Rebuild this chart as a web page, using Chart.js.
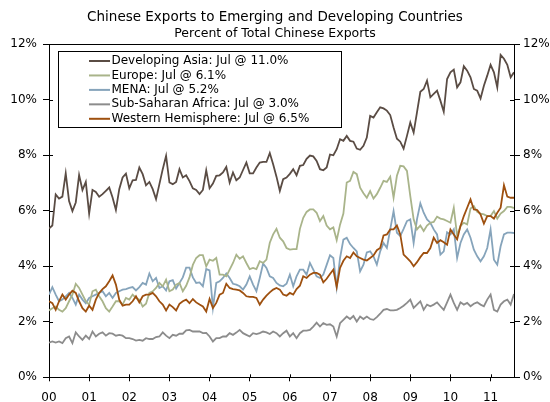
<!DOCTYPE html>
<html>
<head>
<meta charset="utf-8">
<script src="https://cdn.jsdelivr.net/npm/chart.js@4"></script>
<style>
  html, body { margin: 0; padding: 0; background: #fff; }
  #wrap { width: 550px; height: 402px; position: relative; }
</style>
</head>
<body>
<div id="wrap"><canvas id="c" width="550" height="402"></canvas></div>
<script>
// ---- Data (monthly, Jan 2000 .. Jul 2011), percent of total Chinese exports ----
const yearLabels = ['00','01','02','03','04','05','06','07','08','09','10','11'];
const yTickLabels = ['0%','2%','4%','6%','8%','10%','12%'];
const seriesNames = [
  'Developing Asia: Jul @ 11.0%',
  'Europe: Jul @ 6.1%',
  'MENA: Jul @ 5.2%',
  'Sub-Saharan Africa: Jul @ 3.0%',
  'Western Hemisphere: Jul @ 6.5%'
];

const developingAsia = [
  5.36,5.47,6.59,6.44,6.51,7.35,6.35,5.99,6.30,7.29,6.75,7.04,
  5.90,6.75,6.68,6.51,6.60,6.72,6.84,6.48,6.03,6.78,7.20,7.34,
  6.81,7.10,7.11,7.56,7.32,6.92,7.04,6.78,6.42,6.96,7.50,7.98,
  7.02,6.96,7.04,7.50,7.20,7.28,7.07,6.81,6.75,6.60,6.75,7.46,
  6.81,6.98,7.26,7.28,7.38,7.58,7.02,7.38,7.10,7.20,7.47,7.74,
  7.35,7.35,7.56,7.74,7.76,7.76,8.08,7.68,7.23,6.72,7.14,7.20,
  7.33,7.50,7.28,7.62,7.65,7.87,7.99,7.96,7.80,7.50,7.46,7.56,
  8.03,8.00,8.22,8.58,8.52,8.70,8.52,8.49,8.24,8.20,8.34,8.64,
  9.42,9.36,9.55,9.73,9.69,9.61,9.45,9.00,8.60,8.49,8.24,8.70,
  9.18,8.82,9.55,10.29,10.39,10.69,10.09,10.21,10.33,9.97,9.57,10.75,
  10.99,11.09,10.45,10.63,11.21,11.05,10.81,10.39,10.33,10.05,10.51,10.87,
  11.26,10.99,10.45,11.62,11.48,11.26,10.81,10.99
];
const europe = [
  2.41,2.49,2.55,2.43,2.37,2.49,2.74,2.98,3.37,3.22,2.98,2.74,
  2.62,3.10,3.16,2.92,2.74,2.49,2.37,2.55,2.74,2.74,2.62,2.86,
  2.80,2.98,2.86,2.80,2.55,2.65,3.04,3.10,3.22,3.40,3.28,3.52,
  3.10,3.16,3.34,3.40,3.10,3.30,3.60,4.05,4.30,4.40,4.40,4.00,
  4.24,4.20,4.30,3.70,3.70,3.64,3.88,4.12,4.42,4.27,4.36,4.12,
  3.90,3.94,3.90,4.18,4.12,4.24,4.85,5.15,5.35,5.03,4.90,4.66,
  4.60,4.62,4.62,5.35,5.75,5.96,6.05,6.05,5.93,5.63,5.81,5.47,
  5.33,5.40,4.94,5.50,5.90,7.02,7.08,7.40,7.32,6.83,6.63,6.47,
  6.71,6.44,6.60,6.83,7.08,7.04,7.23,6.47,7.26,7.62,7.60,7.44,
  6.53,5.69,5.33,5.47,5.27,5.47,5.57,5.60,5.79,5.72,5.69,5.63,
  5.57,6.11,5.10,5.45,5.57,5.51,6.08,6.17,5.96,5.90,5.87,5.81,
  5.81,5.99,5.72,5.90,5.99,6.14,6.14,6.10
];
const mena = [
  2.98,3.25,2.98,2.74,2.80,2.92,3.04,2.86,2.62,2.98,2.80,2.67,
  2.86,2.92,2.98,3.04,3.10,2.92,3.04,2.86,3.04,3.10,3.16,3.18,
  3.22,3.25,3.13,3.25,3.40,3.34,3.74,3.46,3.58,3.22,3.28,3.13,
  3.46,3.50,3.20,3.40,3.60,3.95,3.95,3.60,3.40,3.42,3.28,3.90,
  3.85,2.50,3.40,3.46,3.58,3.74,3.58,3.37,3.34,3.28,3.16,3.34,
  3.64,3.34,3.10,3.58,4.10,3.94,3.64,3.58,3.40,3.31,3.28,3.37,
  3.70,3.28,3.64,3.88,3.88,3.70,4.12,3.88,3.64,3.58,3.70,4.05,
  4.40,4.30,3.25,4.30,4.96,5.03,4.80,4.66,4.54,3.82,4.06,4.50,
  4.54,4.36,4.06,4.54,4.84,4.66,5.33,5.99,5.21,5.09,5.35,5.63,
  5.69,4.84,5.69,6.27,5.93,5.69,5.57,5.33,5.15,4.42,4.54,5.23,
  5.15,5.33,4.30,4.84,5.15,5.33,5.03,4.60,4.36,4.18,4.36,4.66,
  5.33,4.24,4.06,4.72,5.15,5.21,5.21,5.20
];
const subSaharanAfrica = [
  1.25,1.29,1.25,1.29,1.23,1.41,1.47,1.23,1.62,1.47,1.35,1.50,
  1.38,1.65,1.47,1.57,1.62,1.50,1.59,1.57,1.50,1.53,1.50,1.41,
  1.41,1.38,1.32,1.35,1.32,1.41,1.38,1.38,1.45,1.47,1.62,1.50,
  1.41,1.53,1.50,1.57,1.57,1.69,1.71,1.65,1.65,1.65,1.59,1.60,
  1.47,1.29,1.41,1.41,1.47,1.47,1.59,1.53,1.61,1.71,1.59,1.53,
  1.47,1.59,1.56,1.59,1.65,1.62,1.56,1.65,1.59,1.47,1.59,1.68,
  1.47,1.59,1.41,1.59,1.68,1.68,1.71,1.83,1.97,1.83,1.95,1.89,
  1.91,1.83,1.47,1.95,2.07,2.19,2.10,2.21,2.01,2.19,2.10,2.19,
  2.10,2.07,2.17,2.29,2.43,2.46,2.41,2.41,2.43,2.50,2.58,2.68,
  2.80,2.50,2.62,2.74,2.43,2.62,2.56,2.62,2.70,2.56,2.43,2.70,
  2.98,2.68,2.43,2.70,2.62,2.68,2.56,2.65,2.70,2.62,2.56,2.80,
  2.98,2.43,2.37,2.62,2.74,2.80,2.62,3.00
];
const westernHemisphere = [
  2.74,2.67,2.43,2.74,2.98,2.80,2.98,3.12,3.04,2.74,2.49,2.37,
  2.58,2.43,2.80,3.04,3.18,3.28,3.46,3.67,3.34,2.80,2.58,2.62,
  2.62,2.74,2.92,2.70,2.92,2.98,2.98,3.04,2.92,2.74,2.62,2.41,
  2.62,2.53,2.41,2.65,2.74,2.80,2.67,2.82,2.70,2.62,2.55,2.37,
  2.82,2.50,2.68,2.98,3.04,3.37,3.22,3.18,3.16,3.13,3.04,2.92,
  2.90,2.90,2.86,2.62,2.80,2.94,3.06,3.16,3.22,3.16,2.98,2.94,
  3.04,2.98,3.18,3.30,3.64,3.58,3.70,3.76,3.76,3.70,3.42,3.55,
  3.72,3.88,3.25,3.94,4.20,4.36,4.30,4.50,4.36,4.30,4.24,4.21,
  4.30,4.39,4.58,4.66,5.11,5.15,5.33,5.33,5.47,5.15,4.42,4.30,
  4.18,4.00,4.15,4.33,4.48,4.48,4.66,5.03,4.84,4.94,4.87,4.78,
  5.33,5.15,4.97,5.45,5.81,6.11,6.41,6.05,6.03,5.87,5.54,5.81,
  5.81,5.72,5.93,6.11,6.92,6.51,6.47,6.47
];

const seriesValues = [developingAsia, europe, mena, subSaharanAfrica, westernHemisphere];
const seriesColors = ['#5A4C44', '#A9B48A', '#86A4BB', '#8C8C8C', '#9E500F'];
const drawOrder = [1, 3, 4, 5, 2]; // lower = drawn on top

const FONT = "'DejaVu Sans', Verdana, sans-serif";

const datasets = seriesValues.map((vals, s) => ({
  label: seriesNames[s],
  data: vals.map((v, i) => ({ x: i, y: v })),
  borderColor: seriesColors[s],
  backgroundColor: seriesColors[s],
  borderWidth: 1.8,
  pointRadius: 0,
  tension: 0,
  fill: false,
  order: drawOrder[s]
}));

// Draws inward halves of tick marks, top frame line and the boxed legend
const framePlugin = {
  id: 'frame',
  afterDraw(chart) {
    const ctx = chart.ctx;
    const a = chart.chartArea;
    const sx = chart.scales.x, sy = chart.scales.y;
    ctx.save();
    ctx.strokeStyle = '#000';
    ctx.lineWidth = 1;
    ctx.beginPath();
    // top frame
    ctx.moveTo(a.left, Math.round(a.top) + 0.5);
    ctx.lineTo(a.right, Math.round(a.top) + 0.5);
    // inward y ticks
    sy.ticks.forEach(t => {
      const y = Math.round(sy.getPixelForValue(t.value)) + 0.5;
      ctx.moveTo(a.left, y); ctx.lineTo(a.left + 4, y);
      ctx.moveTo(a.right - 4, y); ctx.lineTo(a.right, y);
    });
    // inward x ticks
    sx.ticks.forEach(t => {
      const x = Math.round(sx.getPixelForValue(t.value)) + 0.5;
      ctx.moveTo(x, a.bottom); ctx.lineTo(x, a.bottom - 3);
    });
    ctx.stroke();

    // legend box
    const bx = 58.5, by = 51.5, bw = 283, bh = 76;
    ctx.fillStyle = '#fff';
    ctx.fillRect(bx, by, bw, bh);
    ctx.strokeRect(bx, by, bw, bh);
    ctx.font = '12px ' + FONT;
    ctx.textBaseline = 'middle';
    ctx.textAlign = 'left';
    chart.data.datasets.forEach((ds, i) => {
      const yy = 61 + i * 14.45;
      ctx.strokeStyle = ds.borderColor;
      ctx.lineWidth = 2;
      ctx.beginPath();
      ctx.moveTo(89, yy); ctx.lineTo(110, yy);
      ctx.stroke();
      ctx.fillStyle = '#000';
      ctx.fillText(ds.label, 111.5, yy);
    });
    ctx.restore();
  }
};

const yAxisCommon = {
  type: 'linear',
  min: 0, max: 12,
  ticks: {
    stepSize: 2,
    color: '#000',
    font: { family: FONT, size: 12 },
    callback: (v, i) => yTickLabels[i]
  },
  grid: { display: true, drawOnChartArea: false, drawTicks: true, tickLength: 6, color: '#000', lineWidth: 1 },
  border: { display: true, color: '#000', width: 1 }
};

new Chart(document.getElementById('c'), {
  type: 'line',
  data: { datasets },
  plugins: [framePlugin],
  options: {
    responsive: false,
    animation: false,
    layout: { padding: 0 },
    plugins: {
      legend: { display: false },
      tooltip: { enabled: false },
      title: {
        display: true,
        text: 'Chinese Exports to Emerging and Developing Countries',
        color: '#000',
        font: { family: FONT, size: 13.5, weight: 'normal', lineHeight: 1.2 },
        padding: { top: 9.6, bottom: 0 }
      },
      subtitle: {
        display: true,
        text: 'Percent of Total Chinese Exports',
        color: '#000',
        font: { family: FONT, size: 12.5, weight: 'normal', lineHeight: 1.2 },
        padding: { top: 0.5, bottom: 3 }
      }
    },
    scales: {
      x: {
        type: 'linear',
        min: 0, max: 139,
        afterBuildTicks: (scale) => { scale.ticks = yearLabels.map((_, i) => ({ value: i * 12 })); },
        afterFit: (scale) => { scale.height = 24.7; },
        ticks: {
          color: '#000',
          font: { family: FONT, size: 12 },
          padding: 9,
          maxRotation: 0,
          autoSkip: false,
          callback: (v, i) => yearLabels[i]
        },
        grid: { display: true, drawOnChartArea: false, drawTicks: true, tickLength: 4, color: '#000', lineWidth: 1 },
        border: { display: true, color: '#000', width: 1 }
      },
      y: Object.assign({}, yAxisCommon, {
        position: 'left',
        afterFit: (scale) => { scale.width = 49; },
        ticks: Object.assign({}, yAxisCommon.ticks, { padding: 6 })
      }),
      y2: Object.assign({}, yAxisCommon, {
        position: 'right',
        afterFit: (scale) => { scale.width = 36; },
        ticks: Object.assign({}, yAxisCommon.ticks, { padding: 3 })
      })
    }
  }
});
</script>
</body>
</html>
